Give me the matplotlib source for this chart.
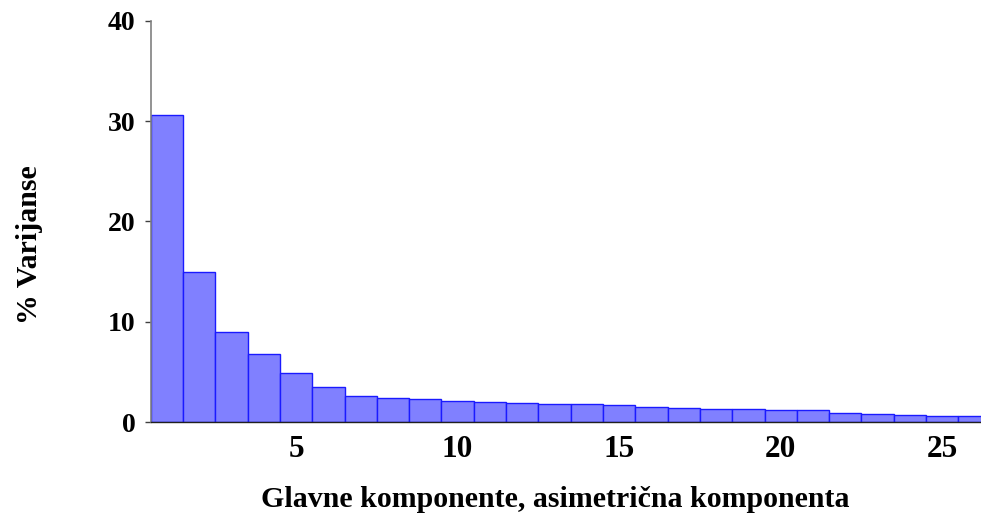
import matplotlib
matplotlib.use("Agg")
import matplotlib.pyplot as plt

components = list(range(1, 27))
variance = [30.6, 15.0, 8.96, 6.77, 4.88, 3.49, 2.62, 2.39, 2.29, 2.12,
            2.02, 1.92, 1.82, 1.79, 1.69, 1.49, 1.42, 1.36, 1.36, 1.19,
            1.19, 0.96, 0.86, 0.76, 0.66, 0.66]
x_ticks = [5, 10, 15, 20, 25]
y_ticks = [0, 10, 20, 30, 40]

plt.rcParams['font.family'] = ['Liberation Serif', 'DejaVu Serif']
plt.rcParams['font.weight'] = 'bold'

fig = plt.figure(figsize=(9.81, 5.20), dpi=100)
ax = fig.add_axes([0.1536, 0.1879, 1.0 - 0.1536, 0.9602 - 0.1879])

ax.bar(components, variance, width=1.0, color='#8080FF', edgecolor='#1a1aff',
       linewidth=1.0, zorder=2)

ax.set_xlim(0.5, 26.2)
ax.set_ylim(0, 40)
ax.set_xticks(x_ticks)
ax.set_yticks(y_ticks)
ax.tick_params(axis='x', length=0, pad=9, labelsize=22.5)
ax.tick_params(axis='y', length=4, width=1, color='#404040', pad=7, labelsize=20)
for lab in ax.get_xticklabels() + ax.get_yticklabels():
    lab.set_fontweight('bold')

ax.spines['top'].set_visible(False)
ax.spines['right'].set_visible(False)
ax.spines['left'].set_color('#808080')
ax.spines['left'].set_linewidth(1.2)
ax.spines['bottom'].set_color('#202020')
ax.spines['bottom'].set_linewidth(1.0)

ax.set_xlabel('Glavne komponente, asimetrična komponenta', fontsize=21.5,
              fontweight='bold', va='center')
ax.xaxis.set_label_coords(0.4875, -0.193)
ax.set_ylabel('% Varijanse', fontsize=21.5, fontweight='bold', va='center')
ax.yaxis.set_label_coords((30 - 150.7) / 830.3, (422.3 - 245) / 401.6)

fig.savefig('out.png', dpi=100)
